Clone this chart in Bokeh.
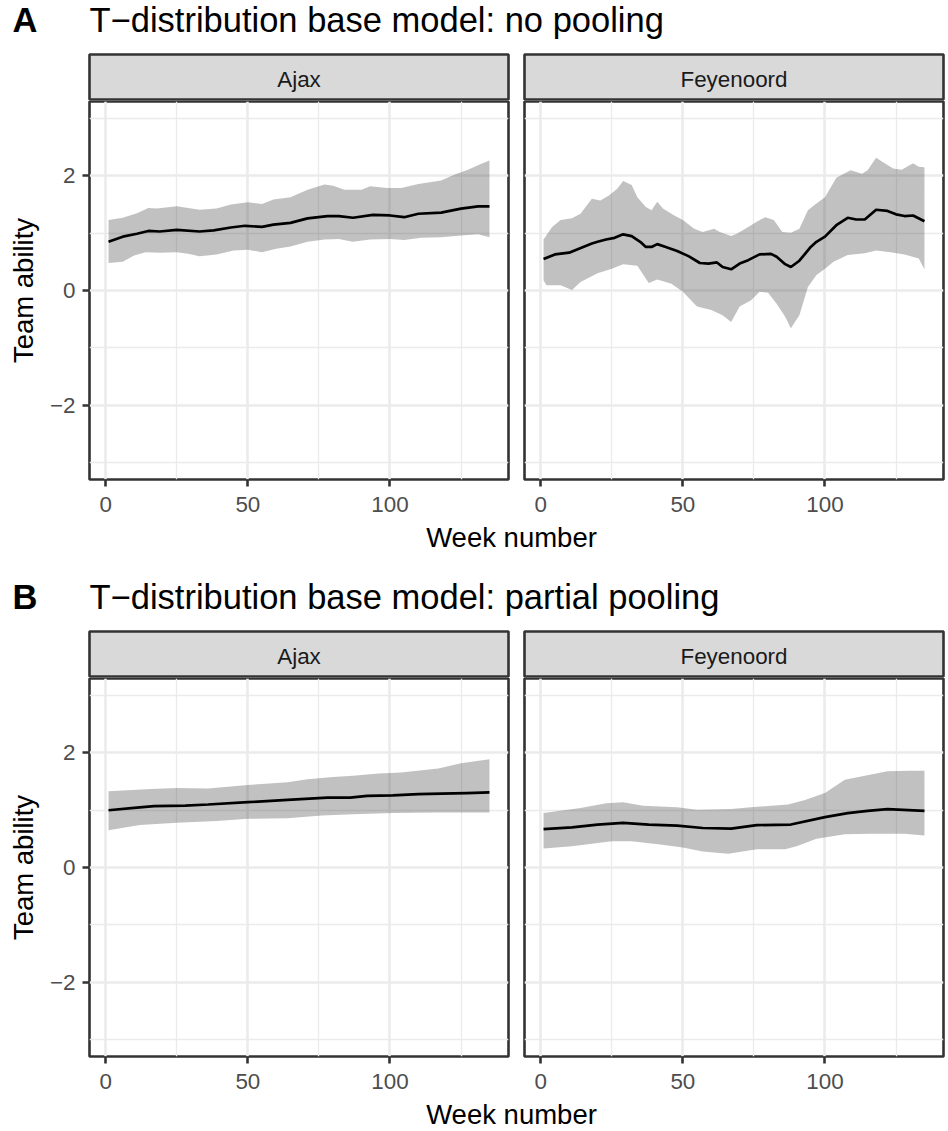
from bokeh.plotting import figure
from bokeh.layouts import column, row
from bokeh.models import Range1d, FixedTicker, Grid
from bokeh.core.properties import value
from bokeh.embed import file_html
from bokeh.resources import INLINE

FONT = "Liberation Sans"

tags = ["A", "B"]
titles = ["T\u2212distribution base model: no pooling",
          "T\u2212distribution base model: partial pooling"]
teams = ["Ajax", "Feyenoord"]
x_label = "Week number"
y_label = "Team ability"
x_ticks = [0, 50, 100]
x_minor = [25, 75, 125]
y_ticks = [-2, 0, 2]
y_minor = [-3, -1, 1, 3]
y_tick_labels = {-2: "\u22122", 0: "0", 2: "2"}

# ---- A: no pooling, Ajax ----
nopool_ajax_mean_wk = [1, 6, 11, 15, 19, 25, 33, 38, 44, 49, 55, 59, 65, 71, 78, 82, 87, 94, 100, 105, 110, 118, 125, 131, 135]
nopool_ajax_mean = [0.85, 0.94, 0.99, 1.04, 1.03, 1.06, 1.03, 1.05, 1.10, 1.13, 1.11, 1.15, 1.18, 1.26, 1.30, 1.30, 1.27, 1.32, 1.31, 1.28, 1.34, 1.36, 1.43, 1.47, 1.47]
nopool_ajax_hi_wk = [1, 6, 11, 15, 18, 25, 29, 33, 39, 44, 50, 55, 59, 65, 71, 77, 80, 84, 90, 93, 99, 104, 110, 118, 123, 127, 132, 135]
nopool_ajax_hi = [1.23, 1.27, 1.35, 1.44, 1.43, 1.47, 1.44, 1.41, 1.43, 1.50, 1.54, 1.51, 1.59, 1.63, 1.76, 1.85, 1.83, 1.76, 1.76, 1.82, 1.79, 1.79, 1.86, 1.92, 2.03, 2.10, 2.21, 2.27]
nopool_ajax_lo_wk = [1, 6, 10, 14, 19, 25, 29, 33, 39, 45, 50, 55, 60, 65, 71, 77, 82, 87, 93, 100, 105, 111, 118, 125, 131, 135]
nopool_ajax_lo = [0.48, 0.50, 0.61, 0.67, 0.66, 0.67, 0.64, 0.60, 0.63, 0.70, 0.71, 0.67, 0.73, 0.77, 0.85, 0.89, 0.90, 0.85, 0.89, 0.90, 0.88, 0.92, 0.93, 0.96, 0.98, 0.93]

# ---- A: no pooling, Feyenoord ----
nopool_fey_mean_wk = [1, 5, 10, 13, 18, 20, 23, 26, 29, 32, 35, 37, 39, 41, 44, 48, 52, 56, 59, 62, 64, 67, 70, 73, 77, 81, 83, 86, 88, 91, 95, 97, 100, 104, 108, 111, 114, 118, 122, 125, 128, 131, 135]
nopool_fey_mean = [0.55, 0.63, 0.66, 0.72, 0.82, 0.85, 0.89, 0.92, 0.98, 0.95, 0.85, 0.76, 0.76, 0.81, 0.76, 0.69, 0.60, 0.48, 0.47, 0.49, 0.41, 0.37, 0.47, 0.53, 0.63, 0.64, 0.59, 0.46, 0.41, 0.52, 0.76, 0.85, 0.94, 1.14, 1.27, 1.24, 1.24, 1.41, 1.39, 1.33, 1.30, 1.31, 1.21]
nopool_fey_hi_wk = [1, 4, 7, 11, 14, 18, 21, 24, 27, 29, 32, 34, 37, 39, 41, 43, 47, 50, 54, 57, 61, 63, 67, 69, 73, 76, 79, 82, 85, 88, 91, 94, 97, 100, 104, 109, 113, 115, 118, 121, 124, 127, 131, 133, 135]
nopool_fey_hi = [0.89, 1.11, 1.23, 1.26, 1.34, 1.60, 1.57, 1.66, 1.78, 1.91, 1.84, 1.63, 1.46, 1.40, 1.55, 1.43, 1.31, 1.23, 1.08, 1.02, 1.08, 1.02, 0.95, 0.99, 1.11, 1.20, 1.28, 1.23, 1.02, 1.01, 1.08, 1.40, 1.52, 1.63, 1.97, 2.10, 2.04, 2.10, 2.32, 2.22, 2.13, 2.11, 2.22, 2.16, 2.15]
nopool_fey_lo_wk = [1, 2, 7, 11, 14, 20, 25, 29, 34, 38, 41, 46, 50, 55, 60, 64, 67, 70, 74, 77, 80, 83, 86, 88, 91, 94, 97, 100, 103, 108, 114, 118, 123, 128, 133, 135]
nopool_fey_lo = [0.18, 0.09, 0.09, 0.01, 0.15, 0.30, 0.38, 0.46, 0.43, 0.13, 0.19, 0.12, -0.02, -0.28, -0.34, -0.43, -0.55, -0.28, -0.17, -0.02, -0.04, -0.23, -0.46, -0.66, -0.43, 0.06, 0.27, 0.38, 0.50, 0.62, 0.65, 0.70, 0.67, 0.63, 0.56, 0.37]

# ---- B: partial pooling, Ajax ----
partial_ajax_mean_wk = [1, 10, 17, 28, 36, 50, 64, 78, 86, 92, 101, 110, 118, 127, 135]
partial_ajax_mean = [1.00, 1.04, 1.07, 1.08, 1.10, 1.14, 1.18, 1.22, 1.22, 1.25, 1.26, 1.28, 1.29, 1.30, 1.31]
partial_ajax_hi_wk = [1, 16, 25, 36, 50, 64, 71, 80, 87, 96, 104, 117, 125, 135]
partial_ajax_hi = [1.33, 1.37, 1.39, 1.38, 1.44, 1.49, 1.54, 1.58, 1.60, 1.64, 1.66, 1.73, 1.82, 1.89]
partial_ajax_lo_wk = [1, 12, 25, 39, 50, 64, 76, 87, 101, 116, 135]
partial_ajax_lo = [0.65, 0.74, 0.78, 0.81, 0.85, 0.86, 0.91, 0.93, 0.95, 0.96, 0.96]

# ---- B: partial pooling, Feyenoord ----
partial_fey_mean_wk = [1, 11, 20, 29, 38, 48, 57, 67, 76, 88, 100, 108, 115, 122, 135]
partial_fey_mean = [0.67, 0.70, 0.75, 0.78, 0.75, 0.73, 0.69, 0.68, 0.74, 0.75, 0.88, 0.95, 0.99, 1.02, 0.99]
partial_fey_hi_wk = [1, 14, 23, 29, 36, 48, 55, 67, 74, 87, 93, 100, 107, 114, 122, 130, 135]
partial_fey_hi = [0.95, 1.04, 1.12, 1.14, 1.08, 1.05, 1.01, 1.02, 1.05, 1.10, 1.18, 1.30, 1.53, 1.60, 1.68, 1.69, 1.69]
partial_fey_lo_wk = [1, 11, 25, 32, 42, 50, 57, 66, 76, 86, 90, 97, 107, 116, 128, 135]
partial_fey_lo = [0.33, 0.37, 0.46, 0.46, 0.40, 0.35, 0.28, 0.24, 0.32, 0.32, 0.37, 0.50, 0.58, 0.59, 0.59, 0.56]

series = [
    [(nopool_ajax_mean_wk, nopool_ajax_mean, nopool_ajax_hi_wk, nopool_ajax_hi, nopool_ajax_lo_wk, nopool_ajax_lo),
     (nopool_fey_mean_wk, nopool_fey_mean, nopool_fey_hi_wk, nopool_fey_hi, nopool_fey_lo_wk, nopool_fey_lo)],
    [(partial_ajax_mean_wk, partial_ajax_mean, partial_ajax_hi_wk, partial_ajax_hi, partial_ajax_lo_wk, partial_ajax_lo),
     (partial_fey_mean_wk, partial_fey_mean, partial_fey_hi_wk, partial_fey_hi, partial_fey_lo_wk, partial_fey_lo)],
]

# ---- style ----
W = 948
BORDER = "#333333"
GRID = "#EBEBEB"
STRIP_BG = "#D9D9D9"
LW = 2.6
X_RANGE = (-5.7, 141.7)
Y_RANGE = (-3.3, 3.3)


def blank(width, height, xr, yr, **kw):
    f = figure(width=width, height=height, x_range=Range1d(*xr), y_range=Range1d(*yr),
               x_axis_location=None, y_axis_location=None, title=None,
               output_backend="svg", toolbar_location=None,
               min_border_left=kw.get("ml", 0), min_border_right=kw.get("mr", 0),
               min_border_top=kw.get("mt", 0), min_border_bottom=kw.get("mb", 0))
    f.grid.visible = False
    f.outline_line_color = None
    f.background_fill_color = "white"
    f.border_fill_color = "white"
    return f


def title_fig(i):
    f = blank(W, 53, (0, W), (53, 0))
    f.text(x=[12], y=[19], text=[tags[i]], text_font=value(FONT), text_font_size="34.5px",
           text_font_style="bold", text_baseline="alphabetic", text_color="black")
    f.text(x=[89], y=[19], text=[titles[i]], text_font=value(FONT), text_font_size="34.5px",
           text_baseline="alphabetic", text_color="black")
    return f


def strip_fig(j):
    left = j == 0
    f = blank(516 if left else 432, 47, (0, 1), (46, 0),
              ml=89 if left else 8, mr=8 if left else 5, mt=1)
    f.background_fill_color = STRIP_BG
    f.outline_line_color = BORDER
    f.outline_line_width = LW
    f.text(x=[0.5], y=[25], text=[teams[j]], text_font=value(FONT), text_font_size="22.4px",
           text_align="center", text_baseline="alphabetic", text_color="#1A1A1A")
    return f


def panel_fig(i, j):
    left = j == 0
    mwk, mval, hwk, hval, lwk, lval = series[i][j]
    p = figure(width=516 if left else 432, height=420,
               x_range=Range1d(*X_RANGE), y_range=Range1d(*Y_RANGE),
               x_axis_location="below", y_axis_location="left" if left else None,
               title=None, output_backend="svg", toolbar_location=None,
               min_border_left=89 if left else 8, min_border_right=8 if left else 5,
               min_border_top=1, min_border_bottom=41)
    p.grid.visible = False
    p.background_fill_color = "white"
    p.border_fill_color = "white"
    p.outline_line_color = BORDER
    p.outline_line_width = LW
    p.add_layout(Grid(dimension=0, ticker=FixedTicker(ticks=x_ticks, minor_ticks=x_minor),
                      grid_line_color=GRID, grid_line_width=LW,
                      minor_grid_line_color=GRID, minor_grid_line_width=1.3))
    p.add_layout(Grid(dimension=1, ticker=FixedTicker(ticks=y_ticks, minor_ticks=y_minor),
                      grid_line_color=GRID, grid_line_width=LW,
                      minor_grid_line_color=GRID, minor_grid_line_width=1.3))

    p.patch(x=hwk + lwk[::-1], y=hval + lval[::-1], fill_color="#333333", fill_alpha=0.3,
            line_color=None)
    p.line(x=mwk, y=mval, line_color="black", line_width=2.7)

    axes = [p.xaxis[0]] + ([p.yaxis[0]] if left else [])
    for ax in axes:
        ax.axis_line_color = None
        ax.major_tick_line_color = BORDER
        ax.major_tick_line_width = LW
        ax.major_tick_out = 7
        ax.major_tick_in = 0
        ax.minor_tick_line_color = None
        ax.major_label_text_font = FONT
        ax.major_label_text_font_size = "22.4px"
        ax.major_label_text_color = "#4D4D4D"
    p.xaxis.ticker = FixedTicker(ticks=x_ticks)
    p.xaxis.major_label_standoff = 10
    if left:
        p.yaxis.ticker = FixedTicker(ticks=y_ticks)
        p.yaxis.major_label_overrides = y_tick_labels
        p.yaxis.major_label_standoff = 7
        p.yaxis.axis_label = y_label
        p.yaxis.axis_label_text_font = FONT
        p.yaxis.axis_label_text_font_size = "27.5px"
        p.yaxis.axis_label_text_font_style = "normal"
        p.yaxis.axis_label_text_color = "black"
        p.yaxis.axis_label_standoff = 8
    return p


def xlabel_fig(height):
    f = blank(W, height, (0, W), (height, 0))
    f.text(x=[511], y=[17], text=[x_label], text_font=value(FONT), text_font_size="27.5px",
           text_align="center", text_baseline="alphabetic", text_color="black")
    return f


blocks = []
for i in range(2):
    blocks.append(title_fig(i))
    blocks.append(row(strip_fig(0), strip_fig(1), spacing=0))
    blocks.append(row(panel_fig(i, 0), panel_fig(i, 1), spacing=0))
    blocks.append(xlabel_fig(57 if i == 0 else 34))

layout = column(*blocks, spacing=0)

open("out.html", "w").write(file_html(layout, INLINE))
